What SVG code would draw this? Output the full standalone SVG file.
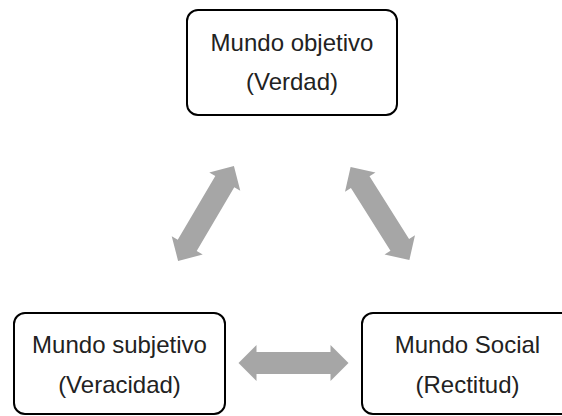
<svg xmlns="http://www.w3.org/2000/svg" width="562" height="416" viewBox="0 0 562 416">
<style>
.box{fill:#fff;stroke:#000;stroke-width:2}
.t{font-family:"Liberation Sans",Arial,sans-serif;font-size:24px;fill:#222;text-anchor:middle}
.arr{fill:#a6a6a6}
</style>
<defs>
<polygon id="dbl" points="-55,0 -37,-18 -37,-11 37,-11 37,-18 55,0 37,18 37,11 -37,11 -37,18"/>
</defs>
<rect width="562" height="416" fill="#fff"/>
<g id="connectors" class="arr">
<use href="#dbl" transform="translate(206,213.5) rotate(-59.5)"/>
<use href="#dbl" transform="translate(380,213.5) rotate(57.7)"/>
<use href="#dbl" transform="translate(293.5,363)"/>
</g>
<g id="n-objetivo">
<rect class="box" x="187" y="10" width="210" height="105" rx="11"/>
<text class="t" x="292" y="51">Mundo objetivo</text>
<text class="t" x="292" y="90">(Verdad)</text>
</g>
<g id="n-subjetivo">
<rect class="box" x="14" y="313" width="211" height="101" rx="11"/>
<text class="t" x="119.5" y="353">Mundo subjetivo</text>
<text class="t" x="119.5" y="393">(Veracidad)</text>
</g>
<g id="n-social">
<rect class="box" x="362" y="313" width="211" height="101" rx="11"/>
<text class="t" x="467.5" y="353">Mundo Social</text>
<text class="t" x="467.5" y="393">(Rectitud)</text>
</g>
</svg>
